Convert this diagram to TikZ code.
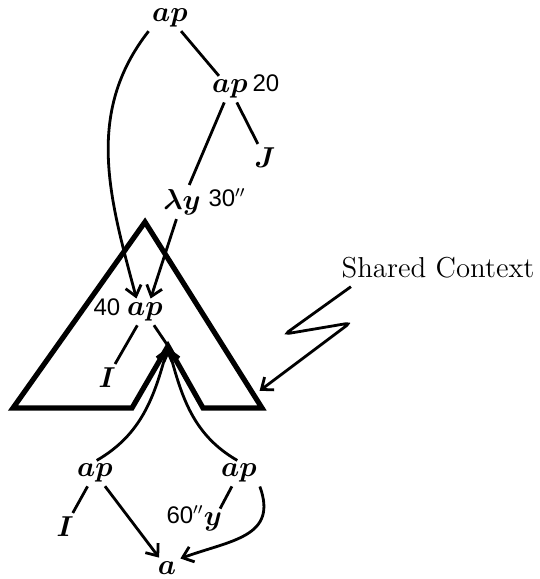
\documentclass[tikz,border=0pt]{standalone}
\usepackage{fontspec}
\setsansfont{Liberation Sans}
\usetikzlibrary{positioning, arrows.meta}

\begin{document}
\begin{tikzpicture}[x=0.5pt, y=-0.5pt,
        term/.style={inner sep=1pt, font=\Large\boldmath},
        tag/.style={inner sep=0pt, font=\large\sffamily},
        edge/.style={line width=1.4pt, shorten <=1pt, shorten >=1pt},
        link/.style={line width=1.4pt, shorten <=1pt, shorten >=1pt,
                     -{Straight Barb[length=5pt, width=8pt]}},
        ctx/.style={line width=2.6pt, line join=miter}]
        \useasboundingbox (0,0) rectangle (540,579);

        % upper tree
        \node[term] (top) at (170,18) {$ap$};
        \node[term] (ap2) at (230,89) {$ap$};
        \node[tag] (n20) at (266,83) {20};
        \node[term] (J) at (265,158) {$J$};
        \node[term] (lam) at (182,202) {$\lambda y$};
        \node[tag] (n30) at (227,198) {30$''$};

        % shared part
        \coordinate (apex) at (168,346);
        \coordinate (rcorner) at (262,408);
        \draw[ctx] (145,222) -- (rcorner) -- (203,408) -- (apex)
                   -- (132,408) -- (13,408) -- cycle;
        \node[term] (mid) at (145,312) {$ap$};
        \node[tag] (n40) at (107,307) {40};
        \node[term] (I1) at (107,378) {$I$};

        % lower trees
        \node[term] (lb) at (95,473) {$ap$};
        \node[term] (I2) at (65,527) {$I$};
        \node[term] (rb) at (239,473) {$ap$};
        \node[term] (y) at (213,522) {$y$};
        \node[tag] (n60) at (185,515) {60$''$};
        \node[term] (a) at (167,568) {$a$};

        \node[font=\Large] (shared) at (438,268) {Shared Context};

        \draw[edge] (top) -- (ap2);
        \draw[edge] (ap2) -- (J);
        \draw[edge] (ap2) -- (lam);
        \draw[edge] (mid) -- (I1);
        \draw[edge] (mid) -- (apex);
        \draw[edge] (lb) -- (I2);
        \draw[edge] (rb) -- (y);

        \draw[link] (top.south west) to[out=232, in=105] ([xshift=-4pt]mid.north);
        \draw[link] (lam) -- ([xshift=2.5pt]mid.north);
        \draw[link] (lb.north) to[out=30, in=255] (apex);
        \draw[link] (rb.north) to[out=150, in=285] (apex);
        \draw[link] (lb) -- (a);
        \draw[link] (rb.south east) to[out=-70, in=20, looseness=1.3] (a.north east);

        \draw[link, rounded corners=2pt] ([xshift=9pt]shared.south west)
              -- (285,334) -- (350,323) -- ([shift={(-4,-16)}]rcorner);
    \end{tikzpicture}
\end{document}
